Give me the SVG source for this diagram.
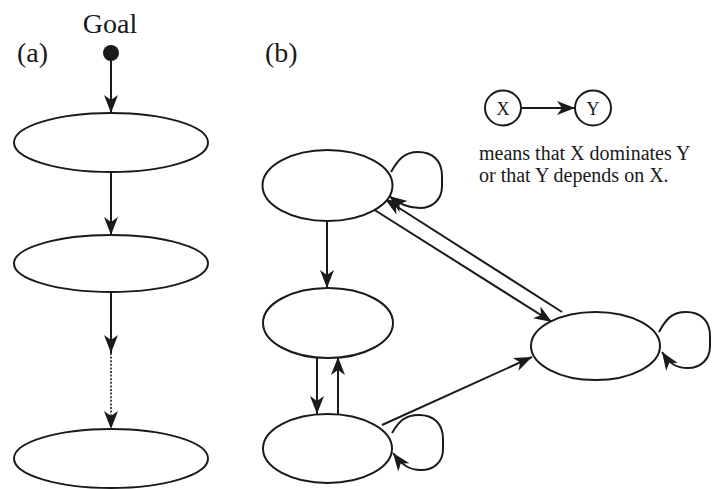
<svg xmlns="http://www.w3.org/2000/svg" width="717" height="489" viewBox="0 0 717 489">
<defs>
<style>
.n{fill:#fff;stroke:#1a1a1a;stroke-width:2}
.e{fill:none;stroke:#1a1a1a;stroke-width:2;marker-end:url(#ah)}
.d{fill:none;stroke:#1a1a1a;stroke-width:1.6;stroke-dasharray:2 1.6;marker-end:url(#ah)}
.t{font-family:"Liberation Serif","Times New Roman",serif;fill:#1a1a1a}
</style>
<marker id="ah" markerWidth="20" markerHeight="14" refX="18" refY="7" orient="auto" markerUnits="userSpaceOnUse" overflow="visible">
<path d="M0,0 L18,7 L0,14 L5,7 Z" fill="#1a1a1a"/>
</marker>
</defs>
<g id="labels">
<text class="t" x="110" y="33" font-size="28" text-anchor="middle">Goal</text>
<text class="t" x="17" y="62" font-size="28">(a)</text>
<text class="t" x="265" y="62" font-size="28">(b)</text>
</g>
<g id="connectors">
<line class="e" x1="111" y1="55" x2="111" y2="113"/>
<line class="e" x1="111" y1="172" x2="111" y2="235"/>
<line class="e" x1="111" y1="292" x2="111" y2="353"/>
<line class="d" x1="111" y1="353" x2="111" y2="429"/>
<line class="e" x1="327" y1="221" x2="327" y2="288"/>
<line class="e" x1="317" y1="358" x2="317" y2="414"/>
<line class="e" x1="338" y1="414" x2="338" y2="357"/>
<line class="e" x1="373" y1="209" x2="552" y2="322"/>
<line class="e" x1="562" y1="312" x2="385" y2="199"/>
<line class="e" x1="382" y1="425" x2="532" y2="357"/>
<path class="e" d="M391,172 C398,160 404,152 418,152 C432,152 442,160 442,176 L442,186 C442,200 432,208 420,208 C408,208 400,204 389,196"/>
<path class="e" d="M392,433 C399,421 405,415 419,415 C433,415 443,423 443,439 L443,449 C443,463 433,470 421,470 C409,470 402,465 393,453"/>
<path class="e" d="M659,332 C666,319 672,312 686,312 C700,312 710,320 710,336 L710,346 C710,360 700,368 688,368 C676,368 670,364 662,352"/>
<line class="e" x1="522" y1="108" x2="575" y2="108"/>
</g>
<g id="goal"><circle cx="111" cy="53" r="8" fill="#1a1a1a"/></g>
<g id="a1"><ellipse class="n" cx="111" cy="142.5" rx="97" ry="29.5"/></g>
<g id="a2"><ellipse class="n" cx="111" cy="263.5" rx="97" ry="28.5"/></g>
<g id="a3"><ellipse class="n" cx="111" cy="458.5" rx="97" ry="29.5"/></g>
<g id="bA"><ellipse class="n" cx="327.5" cy="185.5" rx="65" ry="35.5"/></g>
<g id="bB"><ellipse class="n" cx="328" cy="323" rx="65" ry="35"/></g>
<g id="bD"><ellipse class="n" cx="327.5" cy="448.5" rx="64.5" ry="34.5"/></g>
<g id="bC"><ellipse class="n" cx="595.5" cy="346" rx="64.5" ry="34"/></g>
<g id="legendX"><ellipse class="n" cx="503" cy="108" rx="18" ry="17.5"/><text class="t" x="503" y="114.5" font-size="18" text-anchor="middle">X</text></g>
<g id="legendY"><ellipse class="n" cx="593" cy="108" rx="18" ry="17.5"/><text class="t" x="593" y="114.5" font-size="18" text-anchor="middle">Y</text></g>
<g id="legendText">
<text class="t" x="479" y="160" font-size="20">means that X dominates Y</text>
<text class="t" x="479" y="182" font-size="20">or that Y depends on X.</text>
</g>
</svg>
